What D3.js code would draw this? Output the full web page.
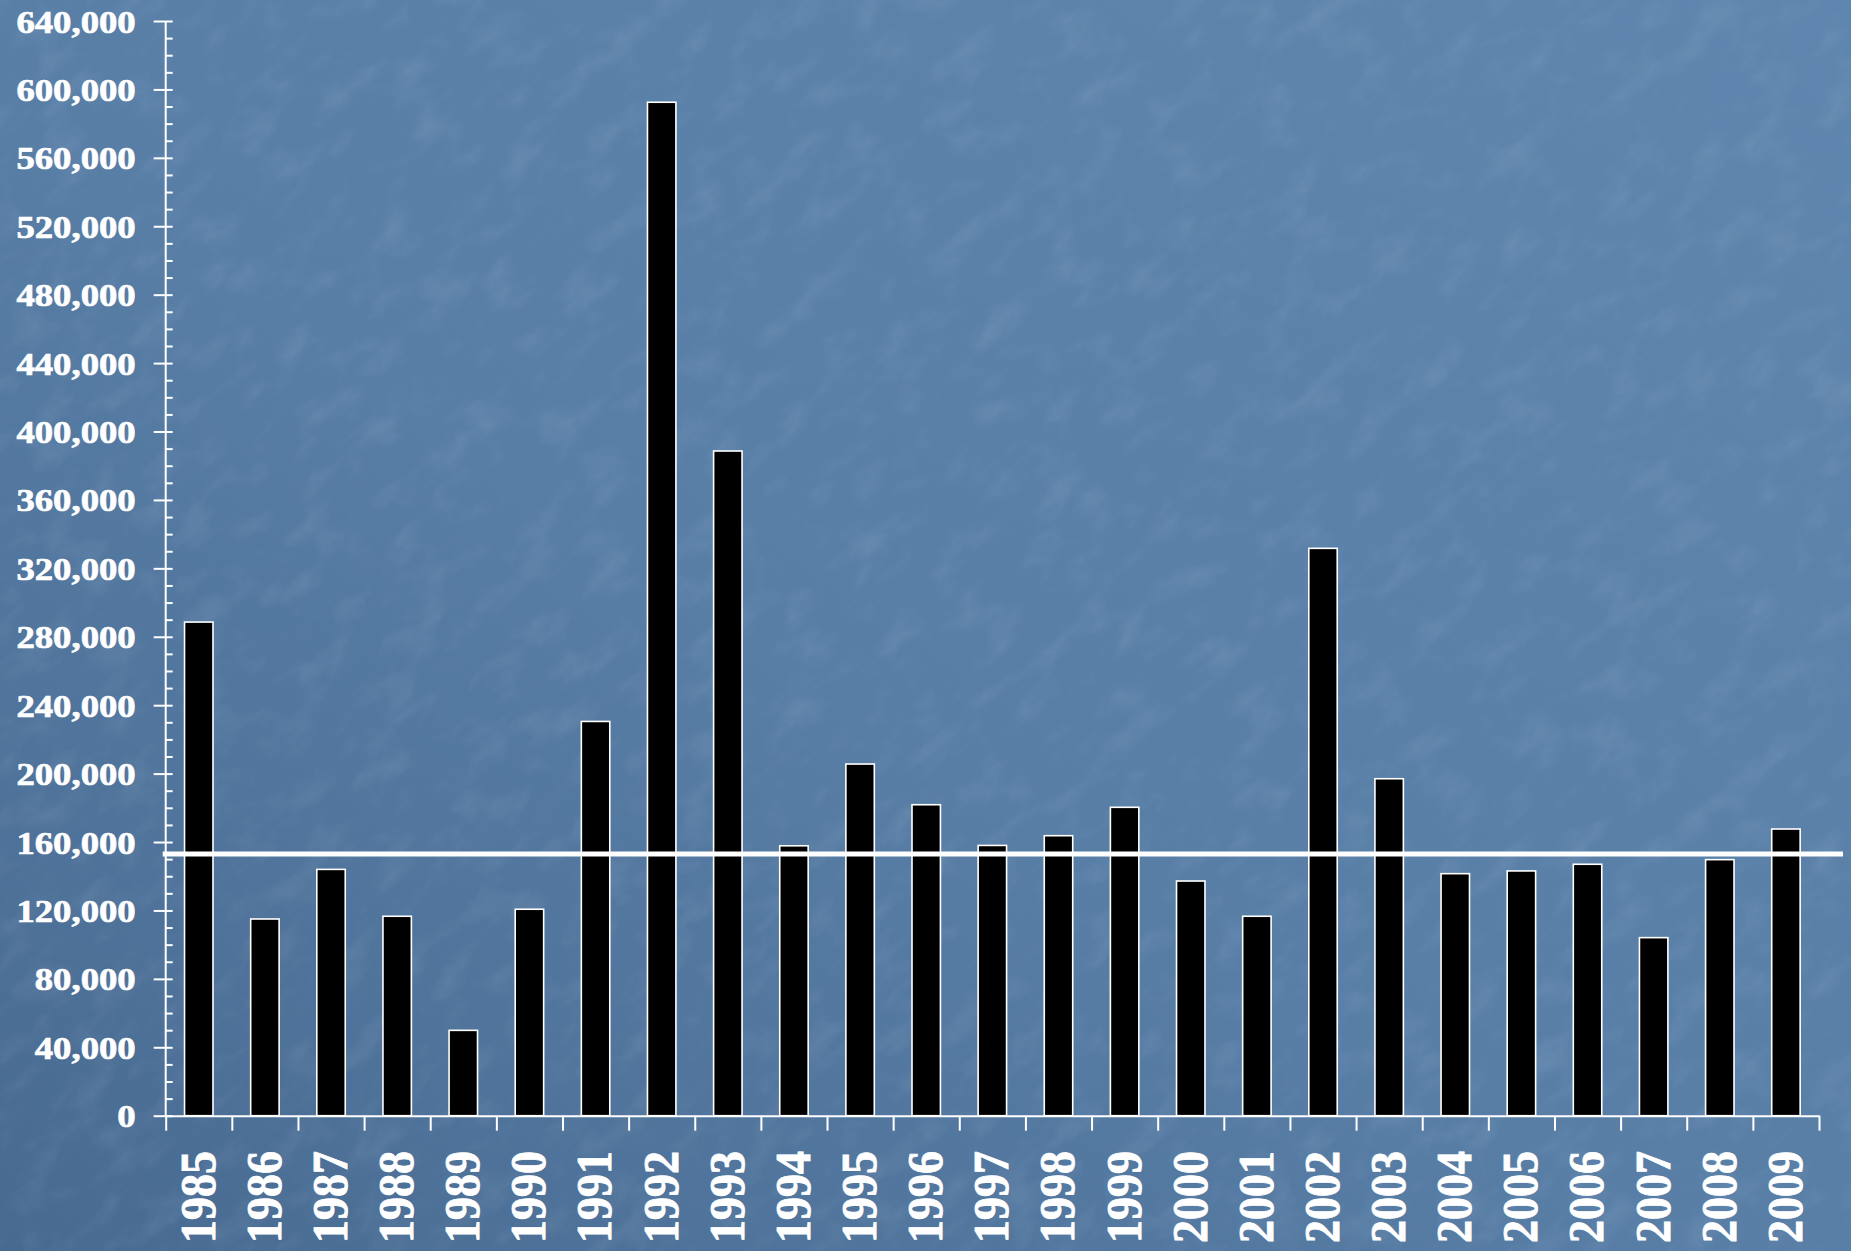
<!DOCTYPE html>
<html><head><meta charset="utf-8">
<script src="https://cdn.jsdelivr.net/npm/d3@7/dist/d3.min.js"></script>
<style>html,body{margin:0;padding:0;background:#56799f;overflow:hidden}</style>
</head><body>
<script>
const years = ["1985","1986","1987","1988","1989","1990","1991","1992","1993","1994","1995","1996","1997","1998","1999","2000","2001","2002","2003","2004","2005","2006","2007","2008","2009"];
const values = [288600,115000,144000,116600,49900,120700,230500,592500,388600,157800,205600,181800,158000,163700,180300,137200,116600,331700,197000,141500,143100,147000,104100,149700,167600];
const meanValue = 153000;
const yMax = 640000;
const yMajorStep = 40000;
const yMinorStep = 10000;

const W = 1851, H = 1251;
const svg = d3.select("body").append("svg").attr("width", W).attr("height", H);
const defs = svg.append("defs");
const grad = defs.append("linearGradient").attr("id","bg").attr("x1","1").attr("y1","0").attr("x2","0").attr("y2","1");
grad.append("stop").attr("offset","0%").attr("stop-color","#5f86ae");
grad.append("stop").attr("offset","55%").attr("stop-color","#587ea6");
grad.append("stop").attr("offset","100%").attr("stop-color","#486a91");
const f1 = defs.append("filter").attr("id","texL").attr("x","0").attr("y","0").attr("width","100%").attr("height","100%");
f1.append("feTurbulence").attr("type","fractalNoise").attr("baseFrequency","0.02 0.035").attr("numOctaves","5").attr("seed","11");
f1.append("feColorMatrix").attr("type","matrix").attr("values","0 0 0 0 0.85  0 0 0 0 0.9  0 0 0 0 1  0 0 0 1.3 -0.62");
const f2 = defs.append("filter").attr("id","texD").attr("x","0").attr("y","0").attr("width","100%").attr("height","100%");
f2.append("feTurbulence").attr("type","fractalNoise").attr("baseFrequency","0.025 0.045").attr("numOctaves","5").attr("seed","3");
f2.append("feColorMatrix").attr("type","matrix").attr("values","0 0 0 0 0.15  0 0 0 0 0.25  0 0 0 0 0.4  0 0 0 -1.3 0.68");
svg.append("rect").attr("width",W).attr("height",H).attr("fill","url(#bg)");
svg.append("rect").attr("filter","url(#texL)").attr("opacity",0.15)
  .attr("transform","rotate(-40 925 625)").attr("x",-500).attr("y",-500).attr("width",W+1000).attr("height",H+1000);
svg.append("rect").attr("filter","url(#texD)").attr("opacity",0.16)
  .attr("transform","rotate(-40 925 625)").attr("x",-500).attr("y",-500).attr("width",W+1000).attr("height",H+1000);

const x0 = 165.7, x1 = 1819, y0 = 1115.7, yTop = 21;
const x = d3.scaleBand().domain(years).range([x0, x1]).padding(0);
const y = d3.scaleLinear().domain([0, yMax]).range([y0, yTop]);
const bw = x.bandwidth() * 0.43;

const font = "'Liberation Serif','Times New Roman',serif";

svg.append("g").selectAll("rect").data(years).join("rect")
  .attr("x", d => x(d) + (x.bandwidth() - bw) / 2)
  .attr("y", (d,i) => y(values[i]))
  .attr("width", bw)
  .attr("height", (d,i) => y0 - y(values[i]))
  .attr("fill", "#000").attr("stroke", "#fff").attr("stroke-width", 1.6);

const yMajor = d3.range(0, yMax + 1, yMajorStep);
const gy = svg.append("g").attr("transform", `translate(${x0},0)`)
  .call(d3.axisLeft(y).tickValues(yMajor).tickSize(12).tickPadding(18).tickFormat(d3.format(",")));
gy.select(".domain").remove();
gy.selectAll(".tick line").attr("stroke","#fff").attr("stroke-width",2);
gy.selectAll(".tick text").attr("fill","#fff").attr("font-family",font).attr("font-weight","bold")
  .attr("font-size",32.5).attr("dy","0.34em").attr("stroke","#fff").attr("stroke-width",0.7)
  .attr("transform", function(){ const xx = +d3.select(this).attr("x"); return `translate(${xx},0) scale(1.13,1) translate(${-xx},0)`; });
const gy2 = svg.append("g").attr("transform", `translate(${x0},0)`)
  .call(d3.axisRight(y).tickValues(d3.range(0, yMax + 1, yMinorStep)).tickSize(7).tickFormat(""));
gy2.select(".domain").remove();
gy2.selectAll(".tick line").attr("stroke","#fff").attr("stroke-width",2);
svg.append("line").attr("x1",x0).attr("x2",x0).attr("y1",y(yMax)).attr("y2",y0).attr("stroke","#fff").attr("stroke-width",2);

const xb = d3.scaleLinear().domain([0, years.length]).range([x0, x1]);
const gx = svg.append("g").attr("transform", `translate(0,${y0})`)
  .call(d3.axisBottom(xb).tickValues(d3.range(0, years.length + 1)).tickSize(15).tickSizeOuter(0).tickFormat(""));
gx.select(".domain").attr("stroke","#fff").attr("stroke-width",2);
gx.selectAll(".tick line").attr("stroke","#fff").attr("stroke-width",2);

svg.append("g").selectAll("text").data(years).join("text")
  .attr("transform", d => `translate(${x(d) + x.bandwidth()/2 - 1},1151) scale(1.08,1) rotate(-90)`)
  .attr("text-anchor","end").attr("dy","0.34em")
  .attr("fill","#fff").attr("stroke","#fff").attr("stroke-width",0.8)
  .attr("font-family",font).attr("font-weight","bold").attr("font-size",46)
  .text(d => d);

svg.append("line").attr("x1", x0 - 3).attr("x2", x1 + 24)
  .attr("y1", y(meanValue)).attr("y2", y(meanValue))
  .attr("stroke","#fff").attr("stroke-width",5);
</script>
</body></html>
